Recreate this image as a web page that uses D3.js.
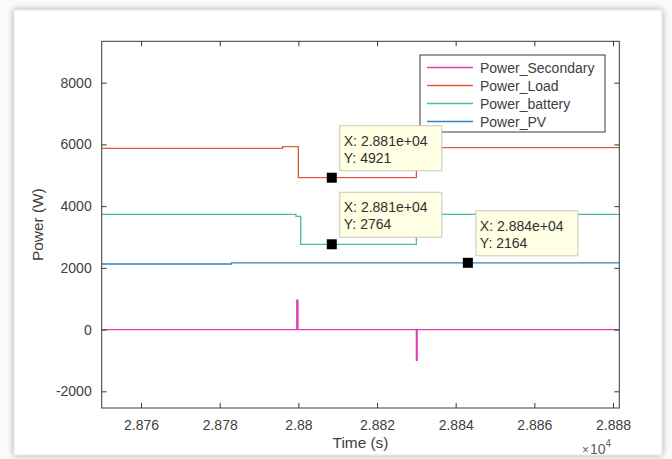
<!DOCTYPE html>
<html>
<head>
<meta charset="utf-8">
<script src="https://cdn.jsdelivr.net/npm/d3@7"></script>
<style>
html,body{margin:0;padding:0;background:#ffffff;}
svg{display:block;}
</style>
</head>
<body>
<svg id="chart" width="672" height="459"></svg>
<script>
// ---------- data ----------
const seriesNames = ["Power_Secondary", "Power_Load", "Power_battery", "Power_PV"];
const seriesColors = ["#e23cb4", "#e2583a", "#45bf9c", "#3584c0"];

const secondaryTime  = [28750, 28799.6, 28799.6, 28799.9, 28799.9, 28800.1, 28800.1, 28830, 28830, 28830.2, 28830.2, 28881.6];
const secondaryPower = [0, 0, 950, 950, 0, 0, 0, 0, -1000, -1000, 0, 0];

const loadTime  = [28750, 28796, 28796, 28800, 28800, 28830, 28830, 28881.6];
const loadPower = [5874, 5874, 5926, 5926, 4921, 4921, 5895, 5895];

const batteryTime  = [28750, 28799.4, 28799.4, 28800.6, 28800.6, 28830, 28830, 28881.6];
const batteryPower = [3735, 3735, 3670, 3670, 2764, 2764, 3735, 3735];

const pvTime  = [28750, 28783, 28783, 28881.6];
const pvPower = [2125, 2125, 2164, 2164];

const xTicks = [28760, 28780, 28800, 28820, 28840, 28860, 28880];
const xTickLabels = ["2.876", "2.878", "2.88", "2.882", "2.884", "2.886", "2.888"];
const yTicks = [-2000, 0, 2000, 4000, 6000, 8000];
const yTickLabels = ["-2000", "0", "2000", "4000", "6000", "8000"];

const tipTime  = [28808.5, 28808.5, 28843.1];
const tipPower = [4921, 2764, 2164];
const tipXLabels = ["X: 2.881e+04", "X: 2.881e+04", "X: 2.884e+04"];
const tipYLabels = ["Y: 4921", "Y: 2764", "Y: 2164"];

const xLabel = "Time (s)";
const yLabel = "Power (W)";
const xExponent = "4";

// ---------- layout ----------
const svg = d3.select("#chart");
const W = 672, H = 459;
const L = 101.7, R = 619.3, T = 41.3, B = 408;
const FONT = "'Liberation Sans', Arial, Helvetica, sans-serif";
const axisColor = "#3a3a3a";
const textColor = "#404040";

// figure frame (screenshot look)
const defs = svg.append("defs");
const f = defs.append("filter").attr("id","shadow").attr("x","-5%").attr("y","-5%").attr("width","110%").attr("height","110%");
f.append("feGaussianBlur").attr("in","SourceAlpha").attr("stdDeviation",3).attr("result","b");
f.append("feOffset").attr("in","b").attr("dx",0).attr("dy",0).attr("result","o");
f.append("feComponentTransfer").append("feFuncA").attr("type","linear").attr("slope",0.35);
const fm = f.append("feMerge"); fm.append("feMergeNode"); fm.append("feMergeNode").attr("in","SourceGraphic");

svg.append("rect").attr("x",0).attr("y",0).attr("width",W).attr("height",H).attr("fill","#fafafa");
svg.append("rect").attr("x",14).attr("y",10).attr("width",648).attr("height",445)
  .attr("fill","#ffffff").attr("stroke","#e2e2e2").attr("stroke-width",1).attr("filter","url(#shadow)");

const x = d3.scaleLinear().domain([28750, 28881.6]).range([L, R]);
const y = d3.scaleLinear().domain([-2541, 9341]).range([B, T]);

svg.append("rect").attr("x",L).attr("y",T).attr("width",R-L).attr("height",B-T).attr("fill","#ffffff");

// ---------- lines ----------
const plot = svg.append("g");
const series = [
  {t: secondaryTime, v: secondaryPower},
  {t: loadTime, v: loadPower},
  {t: batteryTime, v: batteryPower},
  {t: pvTime, v: pvPower}
];
const line = d3.line().x(d => x(d[0])).y(d => y(d[1]));
[3,2,1,0].forEach(i => {
  const pts = series[i].t.map((t,k) => [t, series[i].v[k]]);
  plot.append("path").attr("d", line(pts)).attr("fill","none")
    .attr("stroke", seriesColors[i]).attr("stroke-width", 1.3);
});

// ---------- axes (inward ticks, box) ----------
const tickLen = 5;
const gx = svg.append("g").attr("transform",`translate(0,${B})`)
  .call(d3.axisBottom(x).tickValues(xTicks).tickFormat((d,i)=>xTickLabels[i]).tickSizeInner(-tickLen).tickSizeOuter(0).tickPadding(12));
const gy = svg.append("g").attr("transform",`translate(${L},0)`)
  .call(d3.axisLeft(y).tickValues(yTicks).tickFormat((d,i)=>yTickLabels[i]).tickSizeInner(-tickLen).tickSizeOuter(0).tickPadding(10));
const gxt = svg.append("g").attr("transform",`translate(0,${T})`)
  .call(d3.axisTop(x).tickValues(xTicks).tickFormat("").tickSizeInner(-tickLen).tickSizeOuter(0));
const gyr = svg.append("g").attr("transform",`translate(${R},0)`)
  .call(d3.axisRight(y).tickValues(yTicks).tickFormat("").tickSizeInner(-tickLen).tickSizeOuter(0));
[gx,gy,gxt,gyr].forEach(g => {
  g.select(".domain").remove();
  g.selectAll(".tick line").attr("stroke", axisColor).attr("stroke-width",1);
  g.selectAll(".tick text").attr("fill", textColor).attr("font-family", FONT).attr("font-size", 14);
});
svg.append("rect").attr("x",L).attr("y",T).attr("width",R-L).attr("height",B-T)
  .attr("fill","none").attr("stroke",axisColor).attr("stroke-width",1);

// axis labels
svg.append("text").attr("x",(L+R)/2).attr("y",448).attr("text-anchor","middle")
  .attr("font-family",FONT).attr("font-size",15.4).attr("fill",textColor).text(xLabel);
svg.append("text").attr("transform",`translate(43,${(T+B)/2}) rotate(-90)`).attr("text-anchor","middle")
  .attr("font-family",FONT).attr("font-size",15.4).attr("fill",textColor).text(yLabel);
const ex = svg.append("text").attr("x",582).attr("y",454).attr("font-family",FONT).attr("font-size",14).attr("fill","#606060");
ex.append("tspan").text("\u00d7").attr("font-size",12);
ex.append("tspan").text("10").attr("dx",1);
ex.append("tspan").text(xExponent).attr("font-size",10).attr("dy",-7);

// ---------- legend ----------
const lg = svg.append("g");
lg.append("rect").attr("x",420).attr("y",55).attr("width",185).attr("height",77)
  .attr("fill","#ffffff").attr("stroke",axisColor).attr("stroke-width",1);
seriesNames.forEach((n,i) => {
  const yy = 67.5 + i*18;
  lg.append("line").attr("x1",427).attr("x2",473).attr("y1",yy).attr("y2",yy)
    .attr("stroke",seriesColors[i]).attr("stroke-width",1.3);
  lg.append("text").attr("x",480).attr("y",yy+5).attr("font-family",FONT).attr("font-size",14)
    .attr("fill",textColor).text(n);
});

// ---------- data tips ----------
const tipW = 102, tipH = 45;
tipTime.forEach((t,i) => {
  const mx = x(t), my = y(tipPower[i]);
  const bx = mx + 8, by = my - 52;
  const g = svg.append("g");
  g.append("rect").attr("x",bx).attr("y",by).attr("width",tipW).attr("height",tipH)
    .attr("fill","#ffffe4").attr("stroke","#c8c8c0").attr("stroke-width",1);
  g.append("text").attr("x",bx+4).attr("y",by+20).attr("font-family",FONT).attr("font-size",14)
    .attr("fill","#303030").text(tipXLabels[i]);
  g.append("text").attr("x",bx+4).attr("y",by+37).attr("font-family",FONT).attr("font-size",14)
    .attr("fill","#303030").text(tipYLabels[i]);
  svg.append("rect").attr("x",mx-5).attr("y",my-5).attr("width",10).attr("height",10).attr("fill","#000000");
});
</script>
</body>
</html>
